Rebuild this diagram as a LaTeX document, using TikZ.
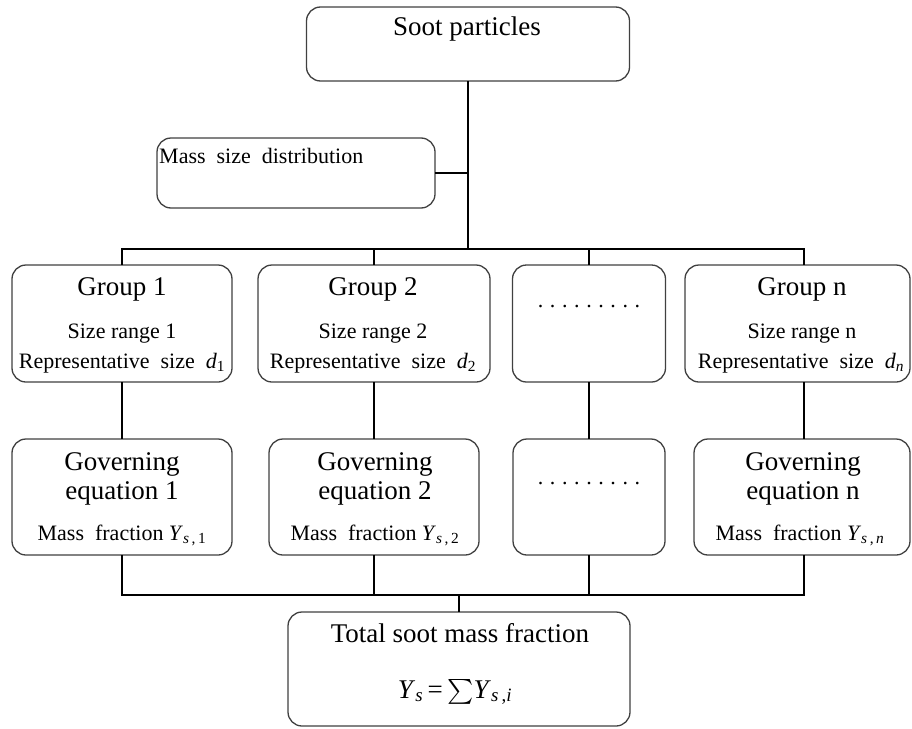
\documentclass[tikz,border=0pt]{standalone}
\usepackage{exscale}
\usepackage{fontspec}
\setmainfont{Liberation Serif}
\newcommand\mysub[1]{\textsubscript{#1}}
\begin{document}
\begin{tikzpicture}[x=1pt,y=-1pt,
  boxstyle/.style={draw=black!75, line width=1.3pt, rounded corners=14pt, inner sep=0pt, fill=white},
  conn/.style={draw=black, line width=2.2pt, line cap=rect},
  txt/.style={anchor=base, inner sep=0pt},
  big/.style={font=\fontsize{27}{32}\selectfont},
  small/.style={font=\fontsize{22}{26}\selectfont}]
\useasboundingbox (0,0) rectangle (912,728);

% boxes
\node[boxstyle, minimum width=323pt, minimum height=74pt] (top) at (468,44) {};
\node[boxstyle, minimum width=278pt, minimum height=70pt] (msd) at (296,173) {};
\node[boxstyle, minimum width=220pt, minimum height=117pt] (g1) at (122,323.5) {};
\node[boxstyle, minimum width=232pt, minimum height=117pt] (g2) at (374,323.5) {};
\node[boxstyle, minimum width=153pt, minimum height=117pt] (gd) at (589,323.5) {};
\node[boxstyle, minimum width=225pt, minimum height=117pt] (gn) at (797.5,323.5) {};
\node[boxstyle, minimum width=220pt, minimum height=116pt] (v1) at (122,497) {};
\node[boxstyle, minimum width=210pt, minimum height=116pt] (v2) at (374,497) {};
\node[boxstyle, minimum width=152pt, minimum height=116pt] (vd) at (589,497) {};
\node[boxstyle, minimum width=216pt, minimum height=116pt] (vn) at (802,497) {};
\node[boxstyle, minimum width=342pt, minimum height=114pt] (bot) at (459,669) {};

% connectors
\coordinate (busL) at (122,249);
\coordinate (busR) at (804,249);
\coordinate (bbL) at (122,595);
\coordinate (bbR) at (804,595);
\draw[conn] (top.south) -- (top.south |- busL);
\draw[conn] (msd.east) -- (msd.east -| top.south);
\draw[conn] (g1.north) -- (busL) -- (busR) -- (busR |- gn.north);
\draw[conn] (g2.north) -- (g2.north |- busL);
\draw[conn] (gd.north) -- (gd.north |- busL);
\draw[conn] (g1.south) -- (v1.north);
\draw[conn] (g2.south) -- (v2.north);
\draw[conn] (gd.south) -- (vd.north);
\draw[conn] (gn.south -| busR) -- (vn.north -| busR);
\draw[conn] (v1.south) -- (bbL) -- (bbR) -- (bbR |- vn.south);
\draw[conn] (v2.south) -- (v2.south |- bbL);
\draw[conn] (vd.south) -- (vd.south |- bbL);
\draw[conn] (bot.north) -- (bot.north |- bbL);

% texts
\node[txt, big] (ttop) at (467,35) {Soot particles};
\node[txt, small, anchor=base west] (tmsd) at (159,163) {Mass\hspace{0.5em}size\hspace{0.5em}distribution};

\node[txt, big] (tg1a) at (122,295) {Group 1};
\node[txt, small] (tg1b) at (122,338) {Size range 1};
\node[txt, small] (tg1c) at (122,368) {Representative\hspace{0.5em}size\hspace{0.5em}\textit{d}\mysub{1}};

\node[txt, big] (tg2a) at (373,295) {Group 2};
\node[txt, small] (tg2b) at (373,338) {Size range 2};
\node[txt, small] (tg2c) at (373,368) {Representative\hspace{0.5em}size\hspace{0.5em}\textit{d}\mysub{2}};

\node[txt, small] (tgd) at (589,307) {.\hspace{0.3em}.\hspace{0.3em}.\hspace{0.3em}.\hspace{0.3em}.\hspace{0.3em}.\hspace{0.3em}.\hspace{0.3em}.\hspace{0.3em}.};

\node[txt, big] (tgna) at (802,295) {Group n};
\node[txt, small] (tgnb) at (802,338) {Size range n};
\node[txt, small] (tgnc) at (801,368) {Representative\hspace{0.5em}size\hspace{0.5em}\textit{d}\mysub{\textit{n}}};

\node[txt, big] (tv1a) at (122,470) {Governing};
\node[txt, big] (tv1b) at (122,499) {equation 1};
\node[txt, small] (tv1c) at (122,540) {Mass\hspace{0.5em}fraction \textit{Y}\mysub{\textit{s}\,,\,1}};

\node[txt, big] (tv2a) at (375,470) {Governing};
\node[txt, big] (tv2b) at (375,499) {equation 2};
\node[txt, small] (tv2c) at (375,540) {Mass\hspace{0.5em}fraction \textit{Y}\mysub{\textit{s}\,,\,2}};

\node[txt, small] (tvd) at (589,484) {.\hspace{0.3em}.\hspace{0.3em}.\hspace{0.3em}.\hspace{0.3em}.\hspace{0.3em}.\hspace{0.3em}.\hspace{0.3em}.\hspace{0.3em}.};

\node[txt, big] (tvna) at (803,470) {Governing};
\node[txt, big] (tvnb) at (803,499) {equation n};
\node[txt, small] (tvnc) at (800,540) {Mass\hspace{0.5em}fraction \textit{Y}\mysub{\textit{s}\,,\,\textit{n}}};

\node[txt, big] (tbota) at (460,642) {Total soot mass fraction};
\node[txt, big] (tbotb) at (455,698) {\textit{Y}\mysub{\textit{s}}\,=\,$\sum$\textit{Y}\mysub{\textit{s}\,,\textit{i}}};
\end{tikzpicture}
\end{document}
